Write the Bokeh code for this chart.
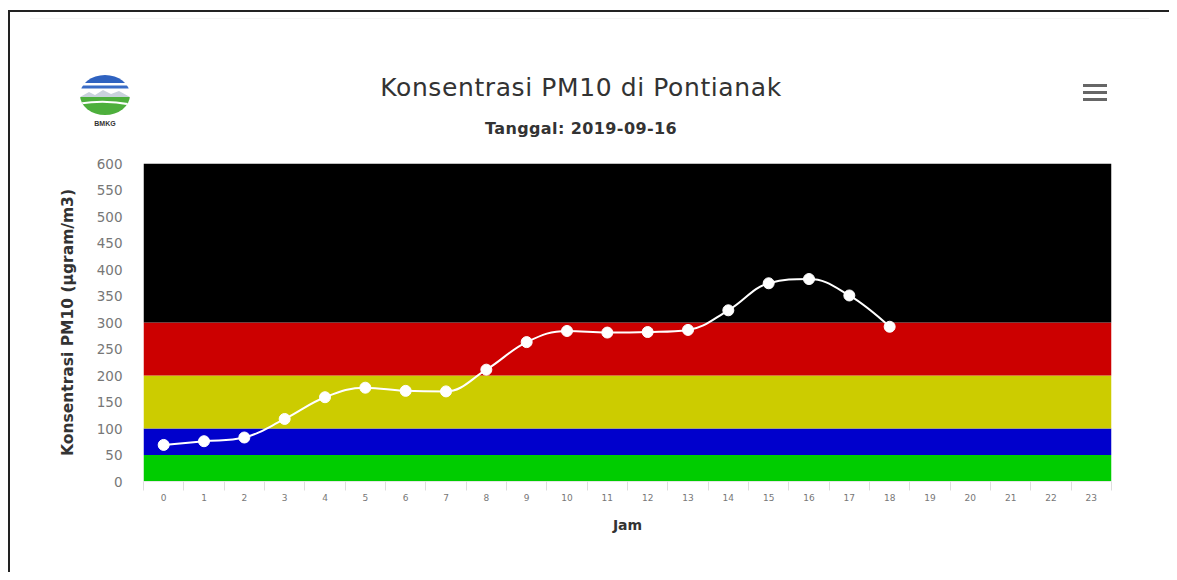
import numpy as np
from bokeh.plotting import figure
from bokeh.layouts import column
from bokeh.models import Range1d, FixedTicker, ColumnDataSource, Div
from bokeh.embed import file_html
from bokeh.resources import INLINE

# ---------------- data ----------------
title_text = "Konsentrasi PM10 di Pontianak"
subtitle_text = "Tanggal: 2019-09-16"
y_label = "Konsentrasi PM10 (µgram/m3)"
x_label = "Jam"
logo_text = "BMKG"
hours = list(range(24))
pm10_hours = list(range(19))
pm10 = [69, 76, 83, 118, 159, 177, 171, 170, 211, 263, 284, 281, 282, 286,
        323, 374, 382, 351, 292]
band_low = [0, 50, 100, 200, 300]
band_high = [50, 100, 200, 300, 600]
band_colors = ["#00cc00", "#0000cc", "#cccc00", "#cc0000", "#000000"]
y_ticks = list(range(0, 601, 50))

FONT = "DejaVu Sans"

# ---------------- layout sizes (page px) ----------------
TOTAL_W, TOTAL_H = 1169, 572
HEADER_H = 150
FIG_H = TOTAL_H - HEADER_H                  # 422
FRAME_L, FRAME_W, FRAME_H = 143, 968, 318
BORDER_CSS = ("linear-gradient(to right, #ffffff 0px, #ffffff 8px, #222222 8px, "
              "#222222 10px, #ffffff 10px, #ffffff 100%)")

p = figure(width=TOTAL_W, height=FIG_H, output_backend="svg", toolbar_location=None,
           x_range=Range1d(-0.5, 23.5), y_range=Range1d(0, 600),
           min_border_left=FRAME_L, min_border_right=TOTAL_W - FRAME_L - FRAME_W,
           min_border_top=13, min_border_bottom=FIG_H - 13 - FRAME_H, margin=0,
           styles={"background": BORDER_CSS})
p.title = None
p.outline_line_color = None
p.xgrid.visible = False
p.ygrid.visible = False
p.background_fill_color = "white"
p.border_fill_color = None

# coloured bands
p.quad(left=p.x_range.start, right=p.x_range.end, bottom=band_low, top=band_high,
       fill_color=band_colors, line_color=None)

# spline (Highcharts-style bezier control points computed from the data)
xs = np.array(pm10_hours, dtype=float)
ys = np.array(pm10, dtype=float)
n = len(xs)
lcx, lcy = xs.copy(), ys.copy()
rcx, rcy = xs.copy(), ys.copy()
sm = 1.5
den = sm + 1
for i in range(1, n - 1):
    px, py = xs[i], ys[i]
    lx, ly, nx, ny = xs[i - 1], ys[i - 1], xs[i + 1], ys[i + 1]
    lX = (sm * px + lx) / den
    lY = (sm * py + ly) / den
    rX = (sm * px + nx) / den
    rY = (sm * py + ny) / den
    corr = ((rY - lY) * (rX - px)) / (rX - lX) + py - rY
    lY += corr
    rY += corr
    if lY > ly and lY > py:
        lY = max(ly, py); rY = 2 * py - lY
    elif lY < ly and lY < py:
        lY = min(ly, py); rY = 2 * py - lY
    if rY > ny and rY > py:
        rY = max(ny, py); lY = 2 * py - rY
    elif rY < ny and rY < py:
        rY = min(ny, py); lY = 2 * py - rY
    lcx[i], lcy[i], rcx[i], rcy[i] = lX, lY, rX, rY

seg = ColumnDataSource(dict(x0=xs[:-1], y0=ys[:-1], x1=xs[1:], y1=ys[1:],
                            cx0=rcx[:-1], cy0=rcy[:-1], cx1=lcx[1:], cy1=lcy[1:]))
p.bezier(x0="x0", y0="y0", x1="x1", y1="y1", cx0="cx0", cy0="cy0",
         cx1="cx1", cy1="cy1", source=seg, line_color="white", line_width=2)
p.scatter(pm10_hours, pm10, size=11, marker="circle", fill_color="white",
          line_color="white")

# axes
p.yaxis.ticker = FixedTicker(ticks=y_ticks)
p.yaxis.axis_line_color = None
p.yaxis.major_tick_line_color = None
p.yaxis.minor_tick_line_color = None
p.yaxis.major_tick_out = 0
p.yaxis.major_label_standoff = 21
p.yaxis.major_label_text_font = FONT
p.yaxis.major_label_text_font_size = "13.5px"
p.yaxis.major_label_text_color = "#777777"
p.yaxis.axis_label = y_label
p.yaxis.axis_label_text_font = FONT
p.yaxis.axis_label_text_font_size = "15.5px"
p.yaxis.axis_label_text_font_style = "bold"
p.yaxis.axis_label_text_color = "#333333"
p.yaxis.axis_label_standoff = 17

p.xaxis.ticker = FixedTicker(ticks=hours,
                             minor_ticks=[h - 0.5 for h in hours] + [hours[-1] + 0.5])
p.xaxis.axis_line_color = "#e6e6e6"
p.xaxis.major_tick_line_color = None
p.xaxis.major_tick_out = 0
p.xaxis.minor_tick_line_color = "#dddddd"
p.xaxis.minor_tick_in = 0
p.xaxis.minor_tick_out = 9
p.xaxis.major_label_standoff = 3
p.xaxis.major_label_text_font = FONT
p.xaxis.major_label_text_font_size = "9px"
p.xaxis.major_label_text_color = "#777777"
p.xaxis.axis_label = x_label
p.xaxis.axis_label_text_font = FONT
p.xaxis.axis_label_text_font_size = "14px"
p.xaxis.axis_label_text_font_style = "bold"
p.xaxis.axis_label_text_color = "#333333"
p.xaxis.axis_label_standoff = 13

# ---------------- header (title, subtitle, logo, menu icon, borders) ----------------
logo_svg = f"""<svg width="60" height="60" viewBox="0 0 60 60" style="position:absolute;left:74.5px;top:70px;overflow:visible"><defs><clipPath id="lc"><ellipse cx="30" cy="25" rx="25" ry="20"/></clipPath></defs><g clip-path="url(#lc)"><rect x="0" y="0" width="60" height="60" fill="#ffffff"/><rect x="0" y="0" width="60" height="13" fill="#2f62c0"/><rect x="0" y="15.5" width="60" height="3" fill="#3a6cc6"/><path d="M5 27 L14 22 L20 25 L28 20 L36 24 L44 21 L55 27 Z" fill="#c9d2dc"/><rect x="0" y="27" width="60" height="30" fill="#4daf3c"/><path d="M2 34 Q30 29 58 35" stroke="#ffffff" stroke-width="2" fill="none"/></g><text x="30" y="56" text-anchor="middle" font-family="{FONT}" font-size="7" font-weight="bold" fill="#333333">{logo_text}</text></svg>"""

menu = "".join(
    f'<div style="position:absolute;left:1083px;top:{cy - 1.5}px;width:24px;'
    f'height:3px;background:#666666"></div>' for cy in (85, 92, 99))

header_html = (
    f'<div style="position:relative;width:{TOTAL_W}px;height:{HEADER_H}px;margin:0;padding:0;overflow:hidden">'
    f'<div style="position:absolute;left:8px;top:10px;width:{TOTAL_W - 8}px;height:2px;background:#222222"></div>'
    f'<div style="position:absolute;left:8px;top:10px;width:2px;height:{HEADER_H - 10}px;background:#222222"></div>'
    f'<div style="position:absolute;left:30px;top:18px;width:{TOTAL_W - 50}px;height:1px;background:#f4f4f4"></div>'
    f'<div style="position:absolute;left:581px;top:74px;transform:translateX(-50%);'
    f'white-space:nowrap;font-family:\'{FONT}\';font-size:25px;line-height:28px;'
    f'letter-spacing:0.6px;color:#333333">{title_text}</div>'
    f'<div style="position:absolute;left:581px;top:120px;transform:translateX(-50%);'
    f'white-space:nowrap;font-family:\'{FONT}\';font-size:16px;line-height:18px;'
    f'letter-spacing:0.4px;font-weight:bold;color:#333333">{subtitle_text}</div>'
    f'{menu}{logo_svg}</div>'
)

header = Div(text=header_html, width=TOTAL_W, height=HEADER_H, margin=0,
             styles={"overflow": "hidden"})

layout = column(header, p, spacing=0)

open("out.html", "w").write(file_html(layout, INLINE))
